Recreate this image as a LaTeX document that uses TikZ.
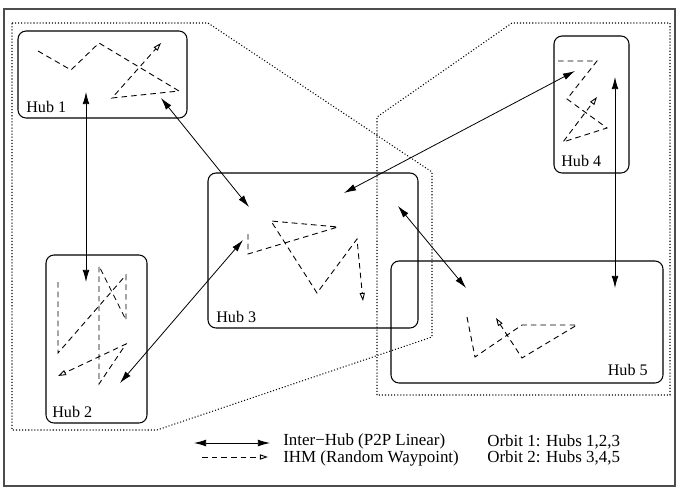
\documentclass[tikz,border=0pt]{standalone}
\usepackage{fontspec}
\setmainfont{Liberation Serif}
\usetikzlibrary{arrows.meta,fit}

\begin{document}
\begin{tikzpicture}[x=0.62pt, y=-0.62pt,
    hub/.style={draw, rounded corners=5pt, line width=0.65pt, inner sep=0pt},
    orbit/.style={line width=0.65pt, dash pattern=on 0.65pt off 1.25pt},
    link/.style={{Latex[length=7.5pt,width=4.2pt]}-{Latex[length=7.5pt,width=4.2pt]}, line width=0.5pt},
    walk/.style={dash pattern=on 3.5pt off 2.5pt, line width=0.55pt, -{Triangle[open,length=5pt,width=3.2pt]}},
    lbl/.style={inner sep=0pt, anchor=base west, font=\fontsize{10}{12}\selectfont},
    key/.style={inner sep=0pt, anchor=west, align=left, font=\fontsize{10.5}{8.7}\selectfont}]
        \useasboundingbox (0,0) rectangle (687,500);
        \draw[line width=0.8pt, black!70] (4,9) rectangle (675,486);

        \draw[orbit] (12,23) -- (208,23) -- (432,172) -- (432,337) -- (157,430) -- (12,430) -- cycle;
        \draw[orbit] (377,395) -- (377,117) -- (512,23) -- (670,23) -- (670,395) -- cycle;

        \node[hub, fit={(18,31) (187,118)}]   (hub1) {};
        \node[hub, fit={(46,255) (147,423)}]  (hub2) {};
        \node[hub, fit={(208,173) (418,328)}] (hub3) {};
        \node[hub, fit={(554,36) (629,173)}]  (hub4) {};
        \node[hub, fit={(391,261) (663,383)}] (hub5) {};
        \node[lbl](t1) at (26,112)  {Hub 1};
        \node[lbl](t2) at (52,417)  {Hub 2};
        \node[lbl](t3) at (216,322) {Hub 3};
        \node[lbl](t4) at (561,166) {Hub 4};
        \node[lbl, anchor=base east](t5) at (648,375) {Hub 5};

        \draw[walk] (38,51) -- (71,70) -- (99,43) -- (179,91) -- (112,98) -- (161,43);
        \draw[walk] (58,282) -- (58,353) -- (126,275) -- (126,320) -- (99,266) -- (99,384) -- (126,344) -- (58,376);
        \draw[walk] (248,234) -- (248,254) -- (338,227) -- (271,221) -- (317,293) -- (357,239) -- (363,301);
        \draw[walk] (558,61) -- (597,61) -- (567,99) -- (607,128) -- (563,142) -- (597,97);
        \draw[walk] (467,317) -- (475,357) -- (522,325) -- (577,325) -- (522,358) -- (496,318);

        \coordinate (a12) at (86,92);
        \coordinate (a21) at (86,282);
        \coordinate (a13) at (161,98);
        \coordinate (a31) at (249,207);
        \coordinate (a23) at (120,383);
        \coordinate (a32) at (243,240);
        \coordinate (a34) at (344,193);
        \coordinate (a43) at (575,71);
        \coordinate (a35) at (398,206);
        \coordinate (a53) at (466,288);
        \coordinate (a45) at (615,77);
        \coordinate (a54) at (615,288);
        \path
          (a12) edge[link] (a21)
          (a13) edge[link] (a31)
          (a23) edge[link] (a32)
          (a34) edge[link] (a43)
          (a35) edge[link] (a53)
          (a45) edge[link] (a54)
          ;

        \coordinate (k1) at (194,443);
        \coordinate (k2) at (270,443);
        \coordinate (k3) at (202,457);
        \coordinate (k4) at (268,457);
        \path (k1) edge[link] (k2);
        \draw[walk] (k3) -- (k4);
        \node[key](legend) at (283,450) {Inter−Hub (P2P Linear)\\IHM (Random Waypoint)};
        \node[key](orbits) at (487,450) {Orbit 1: Hubs 1,2,3\\Orbit 2: Hubs 3,4,5};
      \end{tikzpicture}
\end{document}
